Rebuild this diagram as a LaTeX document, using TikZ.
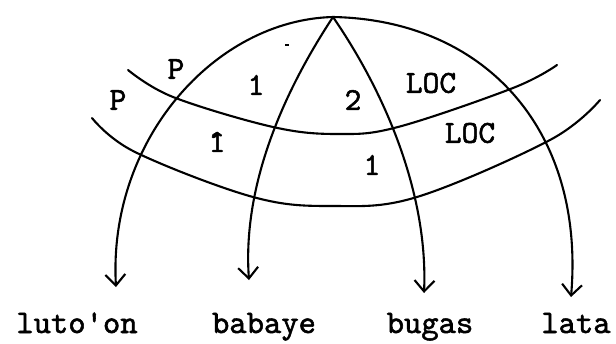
\documentclass[tikz,border=0pt]{standalone}
\usepackage{fontspec}
\setmonofont{lmmono10-regular.otf}[FakeBold=1.6]
\usetikzlibrary{arrows.meta}
\begin{document}
\begin{tikzpicture}[x=1pt,y=-1pt,
  ln/.style={line width=2.1pt,line cap=round},
  arr/.style={ln,-{Straight Barb[length=11pt,width=20pt,line width=2.1pt]}},
  word/.style={anchor=base,inner sep=0pt,font=\fontsize{33}{40}\selectfont\ttfamily},
  lab/.style={inner sep=0pt,font=\fontsize{32}{40}\selectfont\ttfamily}]
\useasboundingbox (0,0) rectangle (616,343);
% apex and arrow tips
\coordinate (A) at (333,17);
\coordinate (tL) at (116,287);
\coordinate (tB) at (249,280);
\coordinate (tG) at (424,293);
\coordinate (tR) at (571,297);
% words
\node[word] (luto) at (77,333) {luto\textquotesingle on};
\node[word] (baba) at (264,333) {babaye};
\node[word] (bugas) at (430,333) {bugas};
\node[word] (lata) at (576,333) {lata};
% arrows from apex
\draw[arr] (A) .. controls (215,20) and (108,140) .. (tL);
\draw[arr] (A) .. controls (275,105) and (243,195) .. (tB);
\draw[arr] (A) .. controls (390,100) and (428,200) .. (tG);
\draw[arr] (A) .. controls (485,20) and (585,130) .. (tR);
% bands
\draw[ln] plot[smooth,tension=0.6] coordinates {(128,70) (173,97) (273,127) (338,134) (398,127) (513,88) (557,65)};
\draw[ln] plot[smooth,tension=0.6] coordinates {(92,118) (135,152) (253,197) (333,206) (417,197) (550,140) (600,100)};
% labels
\node[lab] (p1) at (176,69) {P};
\node[lab] (p2) at (118,100) {P};
\node[lab] (one1) at (256,85) {1};
\node[lab] (onehat) at (217,142) {\^{1}};
\node[lab] (two) at (353,100) {2};
\node[lab] (loc1) at (431,83) {LOC};
\node[lab] (loc2) at (470,133) {LOC};
\node[lab] (one2) at (372,165) {1};
\draw[line width=1.8pt] (285,45) -- (289,45);
\end{tikzpicture}
\end{document}
